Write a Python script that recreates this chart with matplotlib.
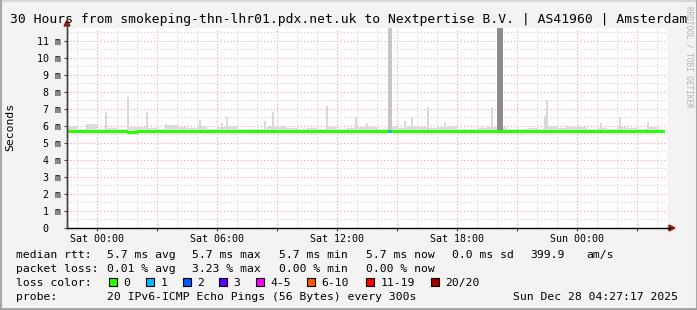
import matplotlib
matplotlib.use("Agg")
import matplotlib.pyplot as plt
from matplotlib.patches import Rectangle, Polygon
import numpy as np

W, H = 697, 310

# time axis: hours since Fri 22:30 (left edge), 30 hour window, 0.5 h bins
bin_hours = 0.5
data_end = 29.8
median_rtt = [5.70, 5.68, 5.68, 5.70, 5.72, 5.69, 5.67, 5.70, 5.69, 5.71,
              5.70, 5.68, 5.70, 5.71, 5.69, 5.68, 5.70, 5.71, 5.71, 5.70,
              5.68, 5.70, 5.71, 5.70, 5.69, 5.71, 5.70, 5.69, 5.71, 5.72,
              5.71, 5.71, 5.70, 5.71, 5.72, 5.71, 5.71, 5.72, 5.71, 5.71,
              5.72, 5.72, 5.71, 5.70, 5.71, 5.71, 5.72, 5.70, 5.69, 5.71,
              5.70, 5.68, 5.70, 5.69, 5.71, 5.68, 5.70, 5.71, 5.70, 5.72]
smoke_top = [6.00, 5.85, 6.10, 5.85, 5.90, 5.85, 5.95, 5.95, 5.90, 5.82,
             6.05, 5.92, 5.90, 6.00, 5.85, 5.95, 6.00, 5.82, 5.85, 5.82,
             6.00, 5.95, 5.88, 5.85, 5.90, 5.85, 5.95, 5.85, 5.90, 5.95,
             5.95, 5.85, 6.00, 5.90, 6.00, 5.95, 5.90, 5.95, 6.00, 5.85,
             5.85, 5.90, 5.95, 5.95, 5.85, 5.85, 5.90, 5.85, 6.00, 5.90,
             5.95, 5.95, 5.85, 5.90, 5.85, 5.95, 5.90, 5.85, 5.95, 5.85]
smoke_floor = 5.60

spike_hours = [0.05, 1.0, 1.95, 3.05, 4.0, 4.95, 6.65, 7.75, 8.0, 9.9, 10.3, 10.8,
               13.0, 14.45, 15.0, 16.9, 17.25, 18.05, 18.9, 20.75, 21.25,
               23.9, 24.0, 25.0, 25.55, 26.7, 27.65, 29.05]
spike_ms = [6.0, 6.1, 6.85, 7.7, 6.8, 6.1, 6.35, 6.2, 6.5, 6.3, 6.85, 6.0,
            7.2, 6.5, 6.2, 6.3, 6.5, 7.1, 6.2, 6.0, 7.1,
            6.6, 7.5, 6.0, 6.1, 6.2, 6.5, 6.2]
big_spike_hours = [16.15, 21.65]
big_spike_ms = [13.0, 13.0]
loss1_hours = [16.05, 16.2]

y_ticks = list(range(12))
y_labels = ["0  "] + [f"{v} m" for v in range(1, 12)]
x_major = [1.5 + 3 * k for k in range(10)]
x_labels = ["Sat 00:00", "", "Sat 06:00", "", "Sat 12:00", "", "Sat 18:00", "", "Sun 00:00", ""]

legend_rows = [
    [(16, "median rtt:"), (107, "5.7 ms avg"), (192, "5.7 ms max"), (279, "5.7 ms min"),
     (366, "5.7 ms now"), (452, "0.0 ms sd"), (530, "399.9"), (586, "am/s")],
    [(16, "packet loss:"), (107, "0.01 % avg"), (192, "3.23 % max"), (279, "0.00 % min"),
     (366, "0.00 % now")],
    [(16, "loss color:")],
    [(16, "probe:"), (107, "20 IPv6-ICMP Echo Pings (56 Bytes) every 300s"),
     (513, "Sun Dec 28 04:27:17 2025")],
]
loss_names = ["0", "1", "2", "3", "4-5", "6-10", "11-19", "20/20"]
loss_colors = ["#26ff00", "#00b8ff", "#0059ff", "#5e00ff", "#ff00ff", "#ff5500", "#ff0000", "#a10000"]
loss_box_x = [109, 146, 183, 219, 256, 307, 366, 431]

mono = "DejaVu Sans Mono"

fig = plt.figure(figsize=(W / 100, H / 100), dpi=100, facecolor="#f3f3f3")
ax = fig.add_axes([67 / W, 1 - 228 / H, 600 / W, 200 / H])
ax.set_facecolor("white")
ax.set_xlim(0, 30)
ax.set_ylim(0, 11.76)

# grid
for h in np.arange(0.5, 30, 1.0):
    if (h - 1.5) % 3 != 0:
        ax.axvline(h, color="#d0d0d0", lw=0.8, ls=(0, (1, 2)), zorder=0)
for v in np.arange(0.5, 11.8, 1.0):
    ax.axhline(v, color="#d0d0d0", lw=0.8, ls=(0, (1, 2)), zorder=0)
for h in x_major:
    ax.axvline(h, color="#f4a0a0", lw=0.8, ls=(0, (1, 2)), zorder=0)
for v in y_ticks[1:]:
    ax.axhline(v, color="#f4a0a0", lw=0.8, ls=(0, (1, 2)), zorder=0)

# smoke
t = np.arange(len(median_rtt)) * bin_hours
edges = np.append(t, data_end)
ax.fill_between(edges, smoke_floor, np.append(smoke_top, smoke_top[-1]), step="post",
                color="#dcdcdc", lw=0, zorder=1)
ax.bar(spike_hours, np.array(spike_ms) - smoke_floor, bottom=smoke_floor, width=0.12,
       color="#d9d9d9", lw=0, zorder=1)
ax.bar(big_spike_hours[0], big_spike_ms[0] - smoke_floor, bottom=smoke_floor, width=0.16,
       color="#c6c6c6", lw=0, zorder=1)
ax.bar(big_spike_hours[1], big_spike_ms[1] - smoke_floor, bottom=smoke_floor, width=0.3,
       color="#8c8c8c", lw=0, zorder=1)

# median
ax.step(edges, np.append(median_rtt, median_rtt[-1]), where="post", color="#26ff00",
        lw=2.1, zorder=3)
i = int(loss1_hours[0] // bin_hours)
ax.plot(loss1_hours, [median_rtt[i]] * 2, color="#00b8ff", lw=2.1, zorder=4,
        solid_capstyle="butt")

# axes
for s in ["top", "right"]:
    ax.spines[s].set_visible(False)
ax.spines["left"].set_color("#404040")
ax.spines["bottom"].set_color("black")
ax.spines["left"].set_linewidth(1)
ax.spines["bottom"].set_linewidth(1)
ax.set_yticks(y_ticks)
ax.set_yticklabels(y_labels, family=mono, fontsize=7.2)
ax.set_xticks(x_major)
ax.set_xticklabels(x_labels, family=mono, fontsize=7.2)
ax.tick_params(axis="both", length=2, width=0.8, pad=2, color="#404040")
fig.text(10.5 / W, 1 - 127 / H, "Seconds", rotation=90, ha="center", va="center",
         family=mono, fontsize=8.2)

# arrows
fig.patches.append(Polygon([(64 / W, 1 - 26 / H), (70 / W, 1 - 26 / H), (67 / W, 1 - 20 / H)],
                           closed=True, color="#8b1a1a", transform=fig.transFigure))
fig.patches.append(Polygon([(669 / W, 1 - 225 / H), (669 / W, 1 - 231 / H), (675 / W, 1 - 228 / H)],
                           closed=True, color="#8b1a1a", transform=fig.transFigure))
fig.add_artist(plt.Line2D([67 / W, 67 / W], [1 - 228 / H, 1 - 24 / H], color="#404040", lw=1))
fig.add_artist(plt.Line2D([667 / W, 670 / W], [1 - 228 / H, 1 - 228 / H], color="black", lw=1))

# title and watermark
fig.text(0.5, 1 - 23 / H, "30 Hours from smokeping-thn-lhr01.pdx.net.uk to Nextpertise B.V. | AS41960 | Amsterdam",
         ha="center", va="baseline", family=mono, fontsize=9.4)
fig.text(689 / W, 1 - 6 / H, "RRDTOOL / TOBI OETIKER", rotation=270, ha="center", va="top",
         family=mono, fontsize=5.5, color="#b0b0b0")

# legend
baselines = [258, 272, 286, 300]
for row, yb in zip(legend_rows, baselines):
    for x, s in row:
        fig.text(x / W, 1 - yb / H, s, ha="left", va="baseline", family=mono, fontsize=8.2)
for name, col, bx in zip(loss_names, loss_colors, loss_box_x):
    fig.patches.append(Rectangle((bx / W, 1 - 286 / H), 8 / W, 8 / H, facecolor=col,
                                 edgecolor="black", lw=0.8, transform=fig.transFigure))
    fig.text((bx + 14.5) / W, 1 - 286 / H, name, ha="left", va="baseline", family=mono, fontsize=8.2)

# frame
fig.add_artist(plt.Line2D([0, 1], [1 - 0.5 / H, 1 - 0.5 / H], color="#d8d8d8", lw=1.5))
fig.add_artist(plt.Line2D([0.5 / W, 0.5 / W], [0, 1], color="#a8a8a8", lw=1.5))
fig.add_artist(plt.Line2D([1 - 0.5 / W, 1 - 0.5 / W], [0, 1], color="#a8a8a8", lw=1.5))
fig.add_artist(plt.Line2D([0, 1], [1 / H, 1 / H], color="#a0a0a0", lw=2))

fig.savefig("out.png", dpi=100, facecolor=fig.get_facecolor())
